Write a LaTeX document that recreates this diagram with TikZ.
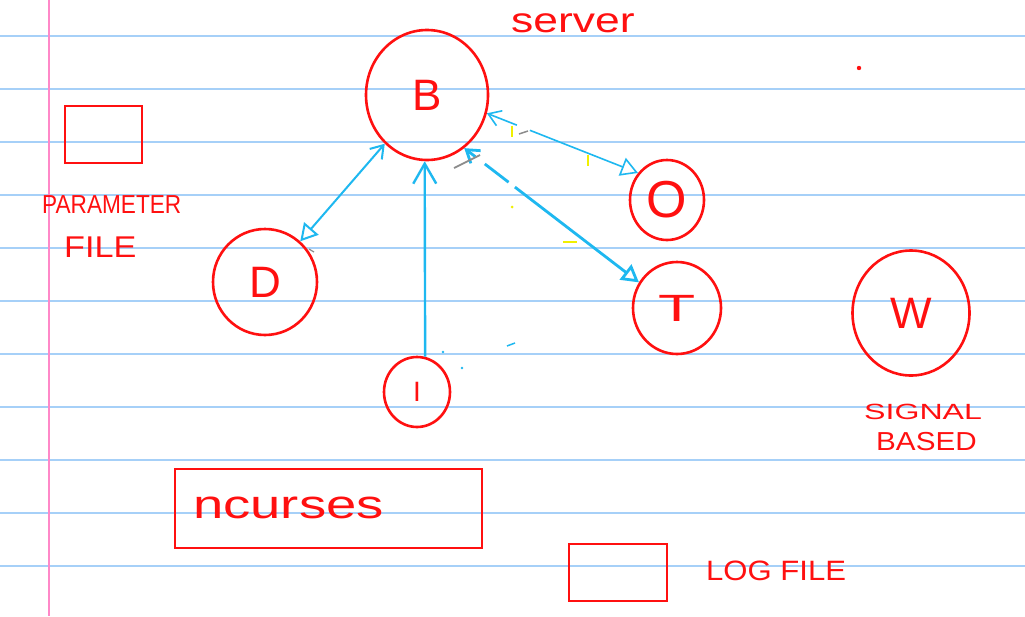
\documentclass[tikz,border=0pt]{standalone}
\usepackage{fontspec}
\usepackage{graphicx}
\setmainfont{Liberation Sans}
\usetikzlibrary{arrows.meta,shapes.geometric}
\definecolor{penred}{HTML}{FF1010}
\definecolor{penblue}{HTML}{1EB8F0}
\definecolor{rulecol}{HTML}{A6D0F8}
\definecolor{margincol}{HTML}{FF88C8}
\definecolor{hiyellow}{HTML}{F0F000}
\definecolor{tickgray}{HTML}{8C8C8C}
\tikzset{
  ruleline/.style={draw=rulecol, line width=1.8pt},
  marginline/.style={draw=margincol, line width=1.8pt},
  bub/.style={ellipse, draw=penred, line width=2.6pt, inner sep=0pt, text=penred},
  filebox/.style={rectangle, draw=penred, line width=2.6pt, inner sep=0pt},
  hand/.style={text=penred, inner sep=0pt, anchor=base west},
  conn/.style={draw=penblue, line width=2pt},
  vtip/.tip={Straight Barb[length=12pt,width=16pt]},
  bigvtip/.tip={Straight Barb[length=20pt,width=23pt]},
  ttip/.tip={Triangle[open,length=17pt,width=19pt]},
}
\begin{document}
\begin{tikzpicture}[x=1pt,y=-1pt]
\useasboundingbox (0,0) rectangle (1025,616);
\fill[white] (0,0) rectangle (1025,616);
% ruled paper
\foreach \k in {0,...,10}
  \draw[ruleline] (0,{36.3+53*\k}) -- (1025,{36.3+53*\k});
\draw[marginline] (49,0) -- (49,616);

% title
\node[hand, font=\fontsize{35}{40}\selectfont] (srv) at (511,32) {\scalebox{1.27}[1]{server}};

% bubbles
\node[bub, minimum width=122pt, minimum height=130pt, font=\fontsize{44}{48}\selectfont] (B) at (427,95) {B};
\node[bub, minimum width=104pt, minimum height=106pt, font=\fontsize{44}{48}\selectfont] (D) at (265,282) {D};
\node[bub, minimum width=74pt, minimum height=80pt, font=\fontsize{52}{56}\selectfont] (O) at (667,200) {O};
\node[bub, minimum width=88pt, minimum height=92pt, font=\fontsize{38}{42}\selectfont] (T) at (677,308) {\scalebox{1.6}[1]{T}};
\node[bub, minimum width=117pt, minimum height=125pt, font=\fontsize{44}{48}\selectfont] (W) at (911,313) {W};
\node[bub, minimum width=66pt, minimum height=70pt, font=\fontsize{28}{32}\selectfont] (I) at (417,392) {I};

% file boxes
\node[filebox, minimum width=77pt, minimum height=57pt] (pf) at (103.5,134.5) {};
\node[filebox, minimum width=307pt, minimum height=79pt] (nc) at (328.5,508.5) {};
\node[filebox, minimum width=98pt, minimum height=57pt] (lf) at (618,572.5) {};

% labels
\node[hand, font=\fontsize{26}{30}\selectfont] (pfl1) at (42,213) {\scalebox{0.87}[1]{PARAMETER}};
\node[hand, font=\fontsize{30}{34}\selectfont] (pfl2) at (64,257) {\scalebox{1.14}[1]{FILE}};
\node[hand, font=\fontsize{22}{26}\selectfont] (wl1) at (864,419) {\scalebox{1.46}[1]{SIGNAL}};
\node[hand, font=\fontsize{26}{30}\selectfont] (wl2) at (876,450) {\scalebox{1.14}[1]{BASED}};
\node[hand, font=\fontsize{40}{44}\selectfont] (ncl) at (193,518) {\scalebox{1.36}[1]{ncurses}};
\node[hand, font=\fontsize{28}{32}\selectfont] (lfl) at (706,580) {\scalebox{1.11}[1]{LOG FILE}};

\fill[penred] (859,68) circle (2.2pt);

% connectors
\draw[conn, vtip-ttip] (B) -- (D);
\draw[conn, line width=2.4pt, -bigvtip] (I.77) -- (B.-92);
\draw[conn, line width=1.6pt, vtip-ttip, dash pattern=on 30pt off 14pt on 300pt] (B.-17) -- (O.137);
\draw[conn, line width=2.8pt, vtip-ttip, dash pattern=on 10pt off 12pt on 30pt off 8pt on 300pt] (B.-55) -- (T.146);

% stray marks
\draw[hiyellow, line width=2pt] (512,126) -- (512,137);
\draw[hiyellow, line width=2pt] (588,155) -- (588,166);
\draw[hiyellow, line width=2.5pt] (563,242) -- (577,242);
\fill[hiyellow] (512,207) circle (1.5pt);
\draw[tickgray, line width=1.5pt] (519,134) -- (528,131);
\draw[tickgray, line width=1.8pt] (454,168) -- (480,155);
\draw[tickgray, line width=1.2pt] (309,249) -- (314,252);
\fill[penblue] (443,352) circle (1.3pt);
\fill[penblue] (462,368) circle (1.3pt);
\draw[penblue, line width=1.5pt] (507,346) -- (515,343);
\end{tikzpicture}
\end{document}
